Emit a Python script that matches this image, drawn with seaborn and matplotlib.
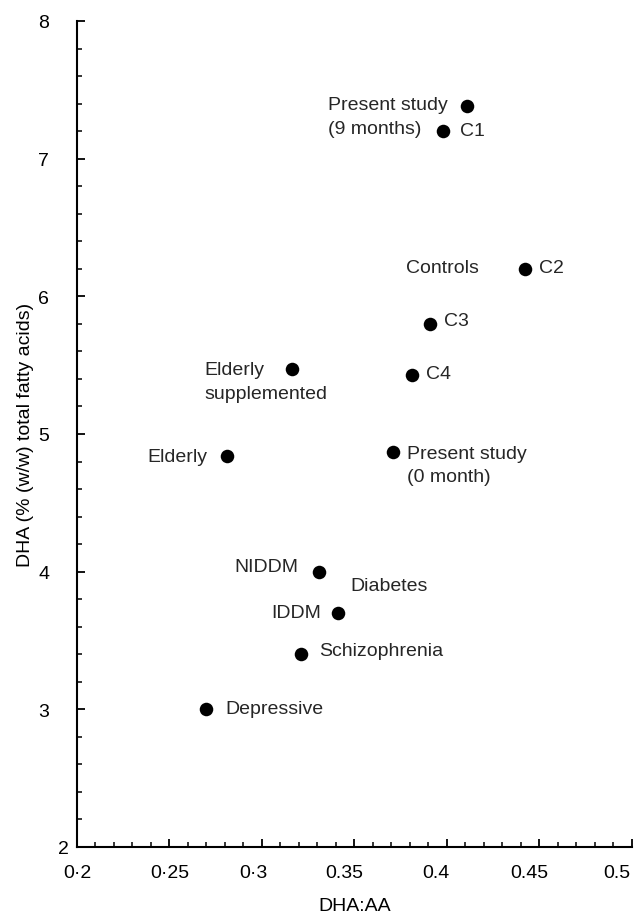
import pandas as pd
import seaborn as sns
import matplotlib.pyplot as plt
from matplotlib.ticker import MultipleLocator
from matplotlib.transforms import ScaledTranslation

# data
studies = ['Present study (9 months)', 'C1', 'C2', 'C3', 'C4',
           'Elderly supplemented', 'Elderly', 'Present study (0 month)',
           'NIDDM', 'IDDM', 'Schizophrenia', 'Depressive']
dha_aa = [0.411, 0.398, 0.442, 0.391, 0.381, 0.316, 0.281, 0.371,
          0.331, 0.341, 0.321, 0.270]
dha = [7.38, 7.20, 6.20, 5.80, 5.43, 5.47, 4.84, 4.87,
       4.00, 3.70, 3.40, 3.00]
point_labels = ['Present study\n(9 months)', 'C1', 'C2', 'C3', 'C4',
                'Elderly\nsupplemented', 'Elderly', 'Present study\n(0 month)',
                'NIDDM', 'IDDM', 'Schizophrenia', 'Depressive']
x_ticks = [0.2, 0.25, 0.3, 0.35, 0.4, 0.45, 0.5]
x_tick_labels = ['0·2', '0·25', '0·3', '0.35', '0.4', '0.45', '0.5']
y_ticks = [2, 3, 4, 5, 6, 7, 8]

# label placement: (dx px, dy px, ha)
label_layout = [(-139, -10, 'left'), (17, 1, 'left'), (14, 1, 'left'),
                (14, 3, 'left'), (14, 1, 'left'), (-87, -12, 'left'),
                (-19, 0, 'right'), (14, -13, 'left'), (-21, 5, 'right'),
                (-17, 0, 'right'), (18, 4, 'left'), (19, 1, 'left')]
# the printed x tick labels sit a little left of their ticks
x_label_shift = [0, 0, -9, -10, -11, -10, -15]

df = pd.DataFrame({'study': studies, 'DHA:AA': dha_aa, 'DHA': dha})

sns.set_theme(style='ticks')
plt.rcParams['font.family'] = ['Liberation Sans', 'DejaVu Sans']

fig = plt.figure(figsize=(6.39, 9.2), dpi=100)
ax = fig.add_axes([0.1205, 0.0783, 0.8685, 0.8978])

sns.scatterplot(data=df, x='DHA:AA', y='DHA', color='black', s=95,
                linewidth=0, ax=ax, zorder=3)

for lab, x, y, (dx, dy, ha) in zip(point_labels, dha_aa, dha, label_layout):
    ax.annotate(lab, (x, y), xytext=(dx, dy), textcoords='offset pixels',
                ha=ha, va='center', fontsize=14, linespacing=1.5,
                multialignment='left')

# group labels
ax.text(0.4173, 6.21, 'Controls', ha='right', va='center', fontsize=14)
ax.text(0.3478, 3.90, 'Diabetes', ha='left', va='center', fontsize=14)

ax.set_xlim(0.2, 0.5)
ax.set_ylim(2, 8)
ax.set_xticks(x_ticks)
ax.set_xticklabels(x_tick_labels)
ax.set_yticks(y_ticks)
ax.xaxis.set_minor_locator(MultipleLocator(0.01))
ax.yaxis.set_minor_locator(MultipleLocator(0.2))

sns.despine(ax=ax)
for side in ['left', 'bottom']:
    ax.spines[side].set_linewidth(1.5)
    ax.spines[side].set_color('black')

ax.tick_params(axis='both', which='major', direction='in', length=6,
               width=1.3, color='black', labelsize=14, labelcolor='black')
ax.tick_params(axis='both', which='minor', direction='in', length=3.5,
               width=1.1, color='black')
ax.tick_params(axis='y', which='major', pad=20)
ax.tick_params(axis='x', which='major', pad=12)
ax.yaxis.get_major_ticks()[0].set_pad(6)

for lbl, shift in zip(ax.get_xticklabels(), x_label_shift):
    lbl.set_transform(lbl.get_transform() +
                      ScaledTranslation(shift / 100, 0, fig.dpi_scale_trans))

ax.set_xlabel('DHA:AA', fontsize=14, color='black')
ax.set_ylabel('DHA (% (w/w) total fatty acids)', fontsize=14, color='black')
ax.xaxis.set_label_coords(0.5, -0.06)
ax.yaxis.set_label_coords(-0.078, 0.5)

fig.savefig('out.png', dpi=100, facecolor='white')
